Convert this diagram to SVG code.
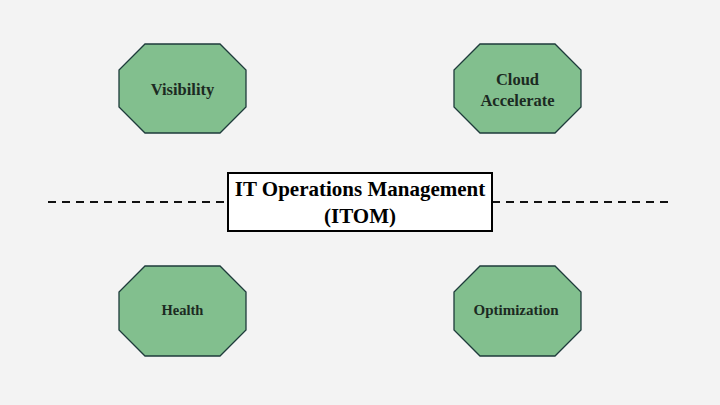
<svg xmlns="http://www.w3.org/2000/svg" width="720" height="405" viewBox="0 0 720 405">
<defs>
<style>
.oct{fill:#82bf8e;stroke:#1e3b3b;stroke-width:1.3}
.lbl{font-family:"Liberation Serif","Times New Roman",serif;font-weight:bold;fill:#1c2a22;text-anchor:middle}
.dash{stroke:#111;stroke-width:2;stroke-dasharray:8 6;fill:none}
</style>
</defs>
<rect width="720" height="405" fill="#f3f3f3"/>
<g id="connectors">
<line class="dash" x1="48" y1="202" x2="228" y2="202"/>
<line class="dash" x1="492" y1="202" x2="674" y2="202"/>
</g>
<g id="visibility">
<polygon class="oct" points="145,44 220,44 246,70 246,107 220,133 145,133 119,107 119,70"/>
<text class="lbl" x="182.5" y="95" font-size="16.5">Visibility</text>
</g>
<g id="cloud">
<polygon class="oct" points="480,44 555,44 581,70 581,107 555,133 480,133 454,107 454,70"/>
<text class="lbl" x="517.5" y="85" font-size="16.5">Cloud</text>
<text class="lbl" x="517.5" y="106" font-size="16.5">Accelerate</text>
</g>
<g id="health">
<polygon class="oct" points="145,266 220,266 246,292 246,330 220,356 145,356 119,330 119,292"/>
<text class="lbl" x="182.5" y="315" font-size="14.5">Health</text>
</g>
<g id="optimization">
<polygon class="oct" points="480,266 555,266 581,292 581,330 555,356 480,356 454,330 454,292"/>
<text class="lbl" x="516" y="315" font-size="15">Optimization</text>
</g>
<g id="itom">
<rect x="228" y="173" width="264" height="58" fill="#ffffff" stroke="#000" stroke-width="2"/>
<text class="lbl" x="360" y="196" font-size="21" style="fill:#000">IT Operations Management</text>
<text class="lbl" x="360" y="223" font-size="21" style="fill:#000">(ITOM)</text>
</g>
</svg>
